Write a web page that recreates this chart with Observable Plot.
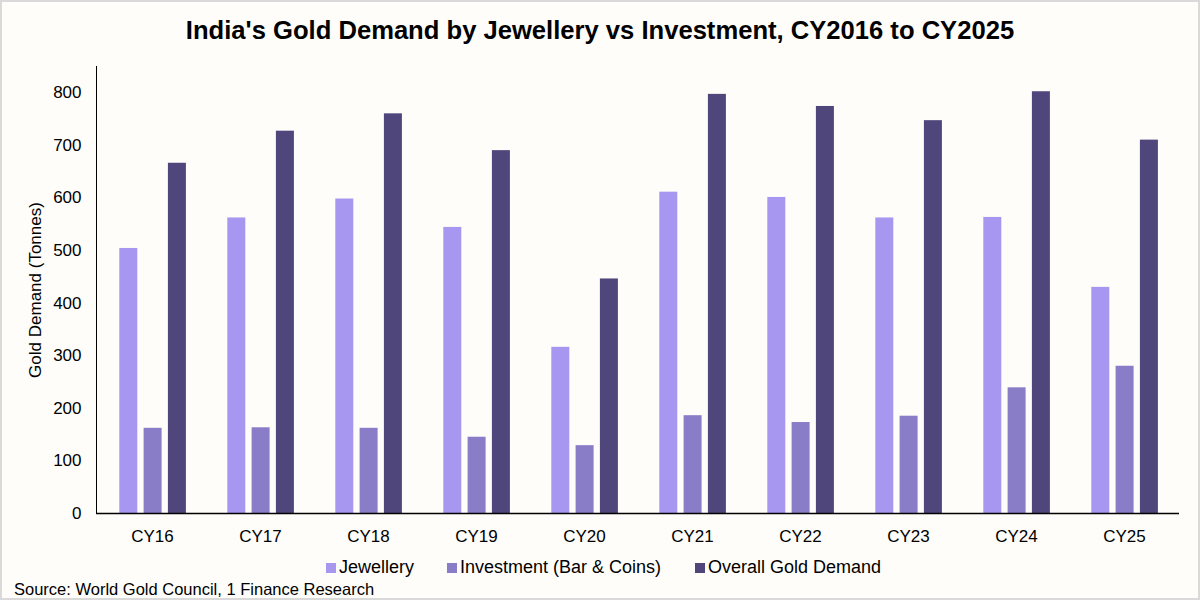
<!DOCTYPE html>
<html>
<head>
<meta charset="utf-8">
<script src="https://cdn.jsdelivr.net/npm/d3@7"></script>
<script src="https://cdn.jsdelivr.net/npm/@observablehq/plot@0.6"></script>
<style>
  html, body { margin: 0; padding: 0; background: #fefdf9; }
  body { width: 1200px; height: 600px; position: relative; overflow: hidden;
         font-family: "Liberation Sans", Arial, sans-serif; color: #000; }
  #frame { position: absolute; left: 0; top: 0; width: 1200px; height: 600px;
           box-sizing: border-box; border: 2px solid #d9d9d9; pointer-events: none; }
  #title { position: absolute; left: 0; width: 1200px; top: 16px; text-align: center;
           font-weight: bold; font-size: 25.6px; line-height: 28px; }
  #chart { position: absolute; left: 0; top: 50px; }
  .leg { position: absolute; top: 557px; font-size: 18px; line-height: 20px; white-space: nowrap; }
  .sw { display: inline-block; width: 10px; height: 10px; margin-right: 3px; vertical-align: 0px; }
  #source { position: absolute; left: 14px; top: 580px; font-size: 16.5px; line-height: 18px; }
</style>
</head>
<body>
<div id="title">India's Gold Demand by Jewellery vs Investment, CY2016 to CY2025</div>
<div id="chart"></div>
<div id="legend"></div>
<div id="source">Source: World Gold Council, 1 Finance Research</div>
<div id="frame"></div>
<script>
const years = ["CY16","CY17","CY18","CY19","CY20","CY21","CY22","CY23","CY24","CY25"];
const jewellery = [504, 562, 598, 544, 316, 611, 601, 562, 563, 430];
const investment = [162, 163, 162, 145, 129, 186, 173, 185, 239, 280];
const overall = [666, 727, 760, 690, 446, 797, 774, 747, 802, 710];
const seriesNames = ["Jewellery", "Investment (Bar & Coins)", "Overall Gold Demand"];
const seriesColors = ["#a797f1", "#8a7dc7", "#4f467c"];
const yTicks = [0, 100, 200, 300, 400, 500, 600, 700, 800];

const seriesValues = [jewellery, investment, overall];
const data = [];
seriesNames.forEach((s, si) => years.forEach((y, i) => data.push({year: y, series: s, value: seriesValues[si][i]})));

const W = 1200, H = 500;
const mL = 96, mR = 21, mT = 16, mB = 37;
const step = (W - mL - mR) / years.length;
const barW = 18.3, barGap = 24.3, off = 21.3;

const barMarks = seriesNames.map((s, si) => {
  const left = off + si * barGap;
  return Plot.barY(data.filter(d => d.series === s), {
    x: "year", y: "value", fill: "series",
    insetLeft: left, insetRight: step - left - barW
  });
});

const chart = Plot.plot({
  width: W, height: H,
  marginLeft: mL, marginRight: mR, marginTop: mT, marginBottom: mB,
  style: { background: "transparent", fontFamily: "'Liberation Sans', Arial, sans-serif", fontSize: "17px", color: "#000" },
  x: { domain: years, padding: 0, tickSize: 0, tickPadding: 16, label: null, fontSize: 18 },
  y: { domain: [0, 850], ticks: yTicks, tickSize: 0, tickPadding: 15, line: true,
       label: "Gold Demand (Tonnes)", labelAnchor: "center", labelArrow: "none", labelOffset: 68 },
  color: { domain: seriesNames, range: seriesColors },
  marks: [
    ...barMarks,
    Plot.ruleY([0], { stroke: "#000", strokeWidth: 1.5 })
  ]
});
document.getElementById("chart").appendChild(chart);

// legend
const legendLefts = [326, 447, 695];
const legend = document.getElementById("legend");
seriesNames.forEach((s, i) => {
  const el = document.createElement("div");
  el.className = "leg";
  el.style.left = legendLefts[i] + "px";
  el.innerHTML = `<span class="sw" style="background:${seriesColors[i]}"></span>${s}`;
  legend.appendChild(el);
});
</script>
</body>
</html>
